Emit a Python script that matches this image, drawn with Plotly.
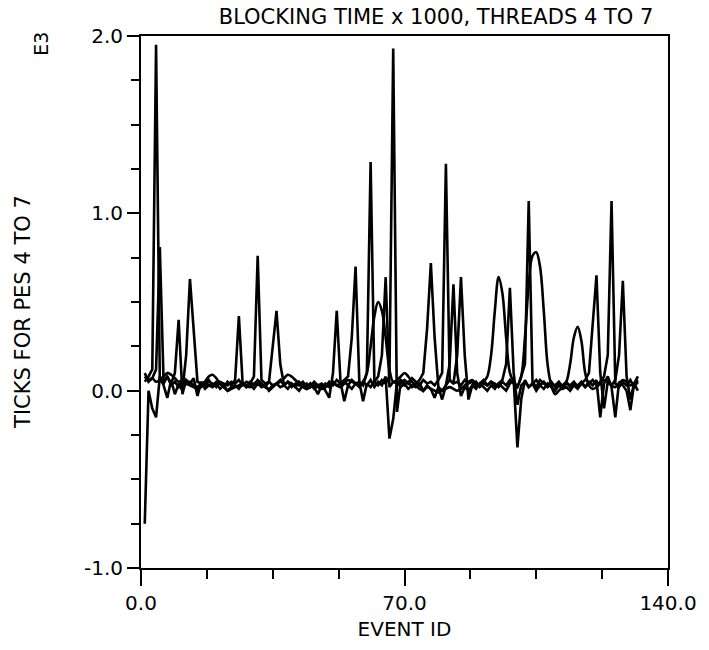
import plotly.graph_objects as go

event_ids = list(range(1, 133))

thread4 = [0.05, 0.08, 0.12, 1.95, 0.06, 0.04, 0.08, 0.03, 0.05, 0.02, 0.06, 0.04,
           0.05, 0.03, 0.02, 0.04, 0.05, 0.03, 0.04, 0.02, 0.05, 0.04, 0.03, 0.05,
           0.04, 0.06, 0.03, 0.05, 0.04, 0.08, 0.76, 0.06, 0.04, 0.05, 0.03, 0.04,
           0.06, 0.03, 0.05, 0.04, 0.02, 0.05, 0.03, 0.04, 0.02, 0.05, 0.03, 0.04,
           0.02, 0.05, 0.03, 0.06, 0.04, 0.05, 0.03, 0.06, 0.04, 0.05, 0.03, 0.10,
           1.29, 0.05, 0.03, 0.06, 0.04, 0.08, 1.93, -0.12, 0.05, 0.06, 0.04, 0.07,
           0.05, 0.03, 0.06, 0.04, 0.05, 0.03, 0.06, 0.10, 1.28, 0.06, 0.04, 0.05,
           0.03, 0.06, 0.04, 0.05, 0.02, 0.04, 0.06, 0.03, 0.05, 0.04, 0.02, 0.05,
           0.03, 0.06, 0.04, 0.02, 0.08, 0.15, 1.07, 0.05, 0.02, 0.06, 0.04, 0.03,
           0.05, 0.02, 0.04, 0.03, 0.05, 0.02, 0.04, 0.03, 0.05, 0.02, 0.04, 0.06,
           0.03, 0.05, 0.08, 0.20, 1.07, 0.04, 0.02, 0.05, 0.03, 0.06, 0.02, 0.05]

thread5 = [0.10, 0.05, 0.07, 0.12, 0.81, 0.05, 0.08, 0.04, 0.10, 0.40, -0.02, 0.06,
           0.04, 0.07, -0.03, 0.05, 0.02, 0.06, 0.03, 0.05, 0.04, 0.02, 0.05, 0.03,
           0.06, 0.42, 0.04, 0.02, 0.05, 0.03, 0.06, 0.04, 0.02, 0.05, 0.25, 0.45,
           0.15, 0.03, 0.05, 0.02, 0.04, 0.03, 0.05, 0.02, 0.04, 0.01, 0.03, 0.02,
           0.04, 0.02, 0.05, 0.03, 0.04, 0.06, 0.08, 0.30, 0.70, 0.05, -0.06, 0.04,
           0.02, 0.05, 0.08, 0.20, 0.64, 0.02, 0.05, 0.04, 0.06, 0.03, 0.05, 0.02,
           0.04, 0.06, 0.10, 0.35, 0.72, 0.30, 0.02, -0.05, 0.03, 0.06, 0.04, 0.20,
           0.64, 0.20, -0.05, 0.03, 0.05, 0.02, 0.04, 0.03, 0.05, 0.02, 0.04, 0.06,
           0.15, 0.58, 0.10, -0.08, 0.03, 0.05, 0.02, 0.04, 0.06, 0.03, 0.05, 0.02,
           0.04, 0.03, 0.05, 0.02, 0.04, 0.03, 0.05, 0.02, 0.04, 0.06, 0.10, 0.35,
           0.65, 0.10, -0.10, 0.05, 0.03, 0.06, 0.20, 0.62, 0.08, -0.05, 0.04, 0.08]

thread6 = [-0.75, 0.00, -0.10, -0.15, 0.08, 0.03, -0.04, 0.06, -0.02, 0.04, 0.00, 0.20,
           0.63, 0.35, 0.05, 0.04, 0.01, 0.03, 0.02, 0.04, 0.01, 0.03, 0.00, 0.02,
           0.03, 0.01, 0.04, 0.02, 0.03, 0.01, 0.04, 0.02, 0.03, 0.00, 0.02, 0.04,
           0.02, 0.03, 0.01, 0.04, 0.02, 0.00, 0.03, 0.01, 0.04, 0.02, -0.02, 0.03,
           0.00, -0.04, 0.10, 0.45, 0.05, -0.06, 0.03, 0.01, 0.04, 0.02, 0.05, 0.03,
           0.06, 0.02, 0.05, 0.03, 0.08, -0.27, -0.16, 0.05, 0.02, 0.04, 0.01, 0.03,
           0.02, 0.04, 0.00, 0.03, 0.01, -0.04, 0.02, 0.00, 0.03, 0.15, 0.60, 0.10,
           -0.03, 0.02, 0.00, 0.03, 0.01, 0.04, 0.02, 0.00, 0.03, 0.01, 0.04, 0.02,
           0.00, 0.04, 0.06, -0.32, -0.05, 0.06, 0.02, 0.04, 0.00, 0.03, 0.01, 0.04,
           0.02, 0.00, 0.03, 0.01, 0.02, 0.00, 0.03, 0.01, 0.04, 0.02, 0.05, 0.03,
           0.06, -0.15, 0.04, 0.08, 0.02, -0.15, 0.05, 0.03, 0.00, -0.11, 0.04, 0.00]

thread7 = [0.08, 0.06, 0.07, 0.05, 0.06, 0.08, 0.10, 0.09, 0.07, 0.05, 0.06, 0.04,
           0.03, 0.02, 0.01, 0.02, 0.05, 0.08, 0.09, 0.07, 0.04, 0.02, 0.00, 0.01,
           0.02, 0.03, 0.04, 0.03, 0.02, 0.04, 0.05, 0.03, 0.02, 0.01, 0.03, 0.04,
           0.05, 0.07, 0.09, 0.08, 0.06, 0.04, 0.02, 0.01, 0.02, 0.03, 0.02, 0.01,
           0.02, 0.03, 0.04, 0.03, 0.02, 0.04, 0.06, 0.05, 0.04, 0.03, 0.05, 0.10,
           0.25, 0.42, 0.50, 0.45, 0.30, 0.12, 0.05, 0.06, 0.08, 0.10, 0.08, 0.05,
           0.03, 0.01, 0.00, 0.02, 0.01, 0.00, -0.01, 0.00, 0.01, 0.02, 0.01, 0.00,
           0.01, 0.03, 0.05, 0.06, 0.04, 0.03, 0.05, 0.08, 0.20, 0.45, 0.64, 0.55,
           0.30, 0.10, 0.05, 0.03, 0.08, 0.30, 0.60, 0.76, 0.78, 0.70, 0.45, 0.15,
           0.03, -0.02, 0.00, 0.02, 0.05, 0.15, 0.30, 0.36, 0.28, 0.10, 0.03, 0.01,
           0.02, 0.04, 0.06, 0.05, 0.03, 0.02, 0.04, 0.06, 0.05, 0.03, 0.04, 0.06]

x_tick_vals = [0, 70, 140]
x_tick_text = ["0.0", "70.0", "140.0"]
y_tick_vals = [-1, 0, 1, 2]
y_tick_text = ["-1.0", "0.0", "1.0", "2.0"]

FONT = "DejaVu Sans"

fig = go.Figure()
for name, vals, shape in [("4", thread4, "linear"), ("5", thread5, "linear"),
                          ("6", thread6, "linear"), ("7", thread7, "spline")]:
    fig.add_trace(go.Scatter(x=event_ids, y=vals, mode="lines", name=name,
                             line=dict(color="black", width=2.6, shape=shape),
                             showlegend=False))

axis_common = dict(showline=True, linecolor="black", linewidth=2, mirror=True,
                   showgrid=False, zeroline=False, ticks="outside",
                   tickcolor="black", tickwidth=2,
                   tickfont=dict(family=FONT, size=20, color="black"))

fig.update_xaxes(range=[0, 140], tickvals=x_tick_vals, ticktext=x_tick_text,
                 ticklen=16,
                 minor=dict(dtick=17.5, ticks="outside", ticklen=9,
                            tickcolor="black", tickwidth=2),
                 title=dict(text="EVENT ID", font=dict(family=FONT, size=20, color="black"),
                            standoff=8),
                 **axis_common)
fig.update_yaxes(range=[-1, 2], tickvals=y_tick_vals, ticktext=y_tick_text,
                 ticklen=12,
                 minor=dict(dtick=0.25, ticks="outside", ticklen=8,
                            tickcolor="black", tickwidth=2),
                 **axis_common)

fig.update_layout(
    width=709, height=650,
    margin=dict(l=141, r=37, t=36, b=82),
    paper_bgcolor="white", plot_bgcolor="white",
    title=dict(text="BLOCKING TIME x 1000, THREADS 4 TO 7",
               font=dict(family=FONT, size=21, color="black"),
               x=0.615, xanchor="center", y=0.985, yanchor="top"),
    annotations=[
        dict(text="TICKS FOR PES 4 TO 7", xref="paper", yref="paper",
             x=-141 / 531 + 22 / 531, y=0.5 - 10 / 532, xanchor="center", yanchor="middle",
             textangle=-90, showarrow=False,
             font=dict(family=FONT, size=21, color="black")),
        dict(text="E3", xref="paper", yref="paper",
             x=-141 / 531 + 40 / 531, y=1 - 8 / 532, xanchor="center", yanchor="middle",
             textangle=-90, showarrow=False,
             font=dict(family=FONT, size=19, color="black")),
    ],
)

fig.write_html("out.html")
